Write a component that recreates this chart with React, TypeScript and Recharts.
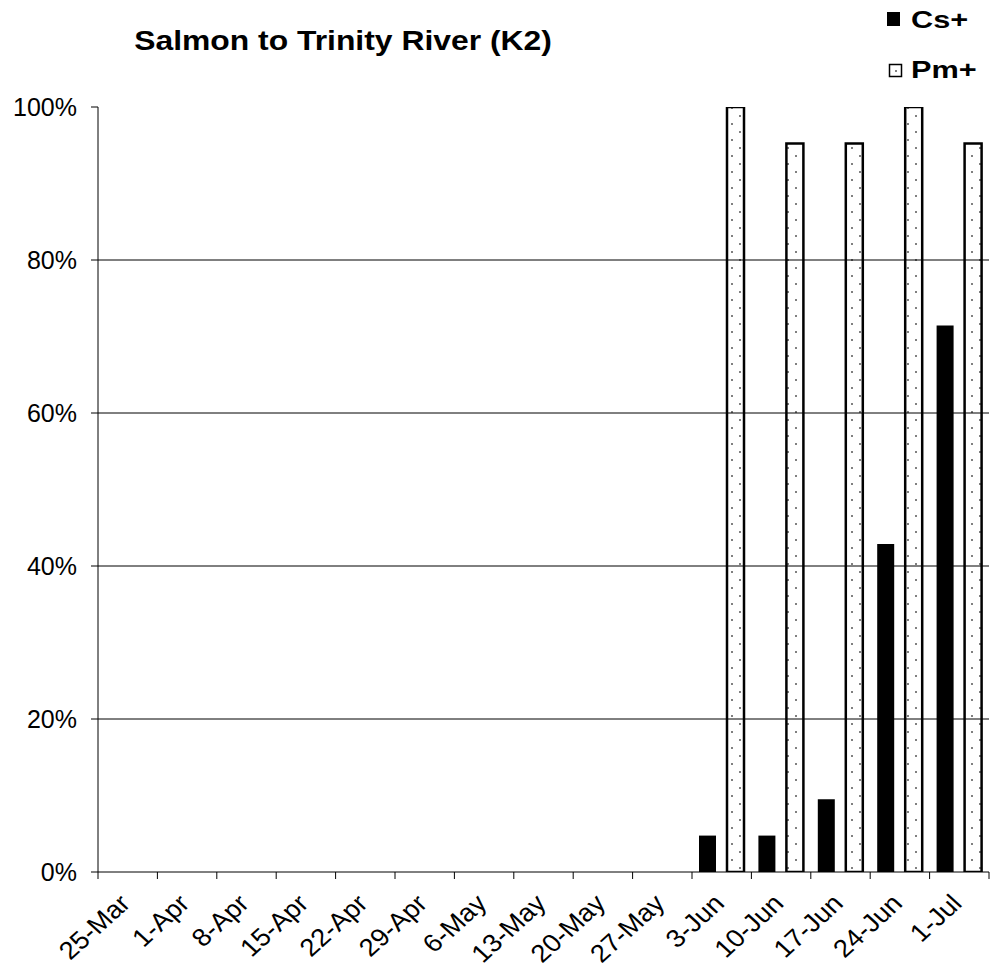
import { BarChart, Bar, XAxis, YAxis, ReferenceLine } from "recharts"

const categories = [
  "25-Mar", "1-Apr", "8-Apr", "15-Apr", "22-Apr", "29-Apr", "6-May", "13-May",
  "20-May", "27-May", "3-Jun", "10-Jun", "17-Jun", "24-Jun", "1-Jul",
]
const csValues = [null, null, null, null, null, null, null, null, null, null, 0.0476, 0.0476, 0.0952, 0.4286, 0.7143]
const pmValues = [null, null, null, null, null, null, null, null, null, null, 1, 0.9524, 0.9524, 1, 0.9524]
const yTicks = [0, 0.2, 0.4, 0.6, 0.8, 1]
const gridValues = [0.2, 0.4, 0.6, 0.8]

const data = categories.map((name, i) => ({ name, cs: csValues[i], pm: pmValues[i] }))

const FONT = "'Liberation Sans', Arial, sans-serif"
const W = 990
const H = 968
const margin = { top: 107, right: 1, left: 0, bottom: 0 }
const BAND = (W - 98 - 1) / categories.length
// the source picture is slightly stretched sideways, text follows it
const SX = 1.1

function pct(v: number): string {
  return Math.round(v * 100) + "%"
}

function DateTick(props: any) {
  const { x, y, payload, index } = props
  const i = payload && payload.index != null ? payload.index : index
  const ax = x + 4
  const ay = y + 33
  return (
    <g>
      <line x1={x - BAND / 2} x2={x - BAND / 2} y1={y} y2={y + 7} stroke="#000" />
      {i === categories.length - 1 && (
        <line x1={x + BAND / 2} x2={x + BAND / 2} y1={y} y2={y + 7} stroke="#000" />
      )}
      <text
        x={0}
        y={0}
        textAnchor="end"
        fontSize={25}
        fontFamily={FONT}
        fill="#000"
        transform={`translate(${ax} ${ay}) scale(${SX} 1) rotate(-45)`}
      >
        {payload.value}
      </text>
    </g>
  )
}

export default function App() {
  return (
    <div style={{ position: "absolute", left: 0, top: 0, width: W, height: H, background: "#fff" }}>
      <BarChart
        width={W}
        height={H}
        data={data}
        margin={margin}
        barCategoryGap={7}
        barGap={11}
      >
        <defs>
          <pattern id="dots" width="16" height="16" patternUnits="userSpaceOnUse">
            <rect width="16" height="16" fill="#fff" />
            <rect x="3" y="3" width="2" height="2" fill="#808080" />
            <rect x="11" y="11" width="2" height="2" fill="#808080" />
          </pattern>
        </defs>
        <XAxis
          dataKey="name"
          interval={0}
          height={96}
          tickSize={0}
          tickMargin={0}
          tick={<DateTick />}
          axisLine={{ stroke: "#000" }}
        />
        <YAxis
          width={98}
          domain={[0, 1]}
          ticks={yTicks}
          tickFormatter={pct}
          tickSize={7}
          tickMargin={14}
          tickLine={{ stroke: "#000" }}
          axisLine={{ stroke: "#000" }}
          tick={{ fontSize: 25, fontFamily: FONT, fill: "#000" }}
          allowDataOverflow
        />
        {gridValues.map((v) => (
          <ReferenceLine key={v} y={v} stroke="#000" strokeWidth={1} />
        ))}
        <Bar dataKey="cs" name="Cs+" fill="#000" isAnimationActive={false} />
        <Bar dataKey="pm" name="Pm+" fill="url(#dots)" stroke="#000" strokeWidth={2.5} isAnimationActive={false} />
      </BarChart>
      <svg width={W} height={100} style={{ position: "absolute", left: 0, top: 0 }}>
        <text
          textAnchor="middle"
          fontSize={27}
          fontWeight="bold"
          fontFamily={FONT}
          fill="#000"
          transform="translate(343 50) scale(1.18 1)"
        >
          Salmon to Trinity River (K2)
        </text>
        <rect x={887} y={12} width={13} height={14} fill="#000" />
        <text fontSize={24} fontWeight="bold" fontFamily={FONT} fill="#000" transform="translate(911 28) scale(1.28 1)">
          Cs+
        </text>
        <rect x={889.5} y={64.5} width={12} height={12} fill="#fff" stroke="#000" strokeWidth={1.5} />
        <rect x={895} y={70} width={2} height={2} fill="#808080" />
        <text fontSize={24} fontWeight="bold" fontFamily={FONT} fill="#000" transform="translate(911 78) scale(1.28 1)">
          Pm+
        </text>
      </svg>
    </div>
  )
}
